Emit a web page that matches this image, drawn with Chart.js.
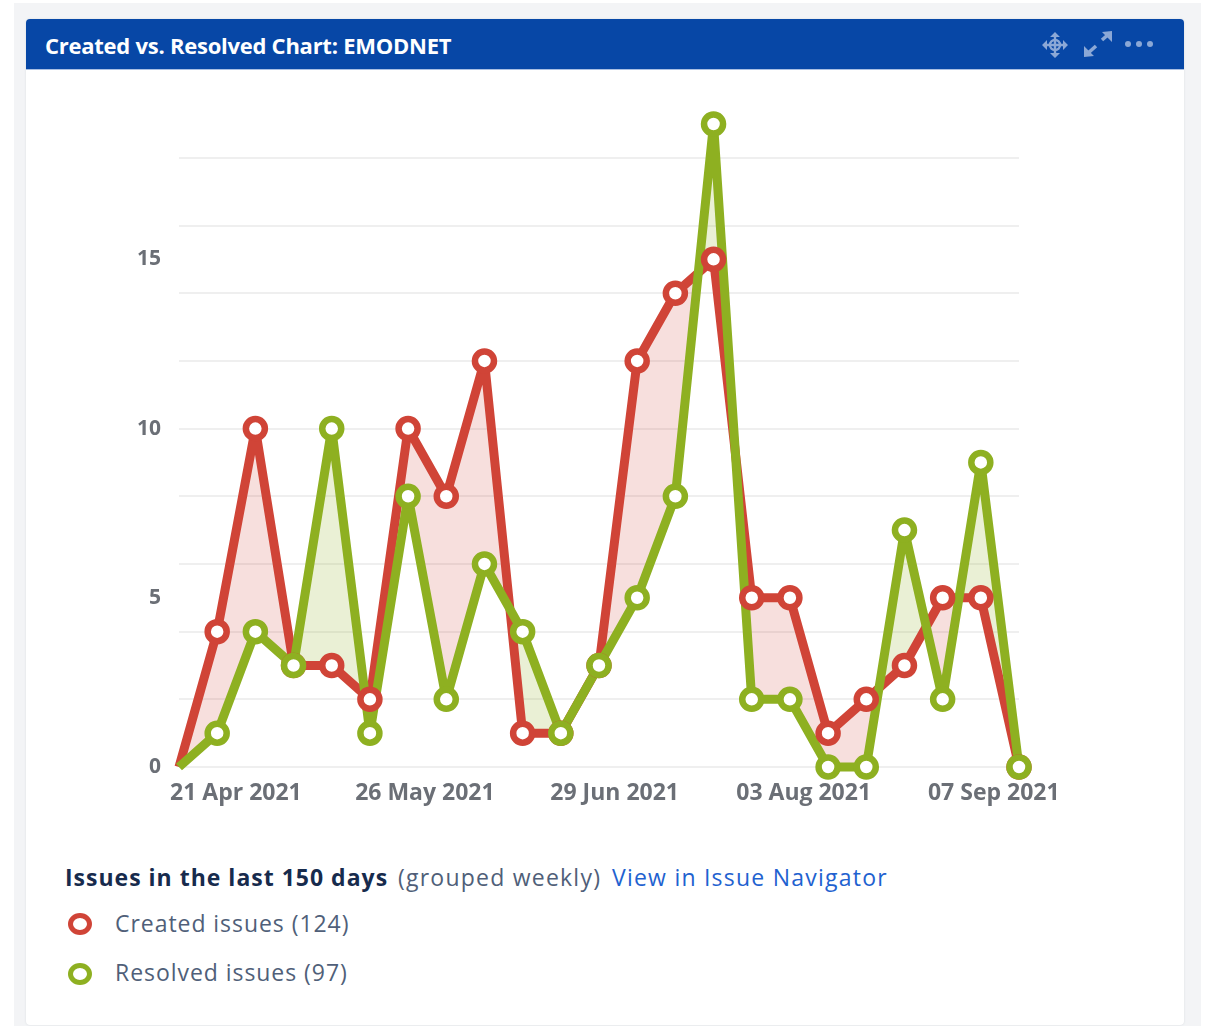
<!DOCTYPE html>
<html><head><meta charset="utf-8">
<script src="https://cdn.jsdelivr.net/npm/chart.js@4"></script>
<style>
html,body{margin:0;padding:0;background:#fff;width:1215px;height:1026px;overflow:hidden;font-family:"Open Sans",sans-serif}
#bg{position:absolute;left:14px;top:3px;width:1187px;height:1023px;background:#f3f4f6}
#card{position:absolute;left:26px;top:19px;width:1158px;height:1006px;background:#fff;border-radius:4px;box-shadow:0 0 2px #d5d8de}
#head{position:absolute;left:0;top:0;width:1158px;height:51px;background:#0747a6;border-radius:4px 4px 0 0;border-bottom:1px solid #a9bfe2;box-sizing:border-box}
#title{position:absolute;left:19px;top:12px;font-size:22px;line-height:28px;font-weight:700;color:#fff;letter-spacing:-.25px;white-space:nowrap}
svg.ic{position:absolute;left:1010px;top:8px}
canvas{position:absolute;left:100px;top:90px}
.t{position:absolute;white-space:nowrap;font-size:23px;line-height:30px;letter-spacing:.95px;color:#505f79}
.t b{color:#172b4d;font-weight:700}
.u{position:absolute;white-space:nowrap;font-size:23px;line-height:30px;letter-spacing:1.23px}
.m{position:absolute;box-sizing:border-box;width:24px;height:22px;border:5.5px solid;border-radius:50%;background:#fff}
</style></head><body>
<div id="bg"></div>
<div id="card"><div id="head"><div id="title">Created vs. Resolved Chart: EMODNET</div>
<svg class="ic" width="130" height="34" viewBox="0 0 130 34" fill="#8ba8d6" stroke="#8ba8d6">
<g stroke-width="2.4" fill="none"><path d="M19 7V29M8 18H30"/><circle cx="19" cy="18" r="5"/></g>
<g stroke="none"><path d="M19 5l5 5H14zM19 31l5-5H14zM6 18l5-5V23zM32 18l-5-5V23z"/></g>
<g stroke-width="3.6" fill="none"><path d="M51 27l9-8M66 13l8-7"/></g>
<g stroke="none"><path d="M48 30V19l10 10zM76 4v11L66 5z"/></g>
<g stroke="none"><circle cx="92" cy="17" r="3"/><circle cx="103" cy="17" r="3"/><circle cx="114" cy="17" r="3"/></g>
</svg></div></div>
<canvas id="c" width="1000" height="730"></canvas>
<div class="t" style="left:65px;top:862px;letter-spacing:1px"><b>Issues in the last 150 days</b></div>
<div class="u" style="left:398px;top:862px;color:#505f79">(grouped weekly)</div>
<div class="u" style="left:612px;top:862px;color:#1f62d0">View in Issue Navigator</div>
<div class="m" style="left:68px;top:913px;border-color:#d04437"></div>
<div class="t" style="left:115px;top:908px">Created issues (124)</div>
<div class="m" style="left:68px;top:963px;border-color:#8eb021"></div>
<div class="t" style="left:115px;top:957px">Resolved issues (97)</div>
<script>
const created=[0,4,10,3,3,2,10,8,12,1,1,3,12,14,15,5,5,1,2,3,5,5,0];
const resolved=[0,1,4,3,10,1,8,2,6,4,1,3,5,8,19,2,2,0,0,7,2,9,0];
const weeks=created.map((_,i)=>i);
const tickLabels=["21 Apr 2021","26 May 2021","29 Jun 2021","03 Aug 2021","07 Sep 2021"];
const tickWeeks=[1.49,6.44,11.41,16.36,21.34];
const yLabels=[0,5,10,15];
const RED="#d04437",GREEN="#8eb021";
const pts=a=>a.map((y,i)=>({x:weeks[i],y}));
const radius=ctx=>ctx.dataIndex===0?0:9.5;
const pointSet=(label,a,col)=>({label,data:pts(a),showLine:false,borderColor:col,backgroundColor:"#fff",pointBorderColor:col,pointBackgroundColor:"#fff",pointBorderWidth:6.5,pointRadius:radius,clip:false});
const lineSet=(label,a,col,fill)=>({label,data:pts(a),borderColor:col,borderWidth:9,tension:0,pointRadius:0,borderJoinStyle:"round",fill,clip:false});
new Chart(document.getElementById("c"),{type:"line",data:{datasets:[
 pointSet("Resolved points",resolved,GREEN),
 pointSet("Created points",created,RED),
 lineSet("Resolved issues",resolved,GREEN,false),
 lineSet("Created issues",created,RED,{target:2,above:"rgba(208,68,55,.17)",below:"rgba(142,176,33,.19)"})
]},options:{responsive:false,animation:false,events:[],
 layout:{padding:{left:0,right:81,top:34,bottom:0}},
 plugins:{legend:{display:false},tooltip:{enabled:false}},
 scales:{
  x:{type:"linear",min:0,max:22,grid:{display:false},border:{display:false},
   afterBuildTicks:s=>{s.ticks=tickWeeks.map(value=>({value}))},
   afterFit:s=>{s.height=53},
   ticks:{autoSkip:false,maxRotation:0,padding:5,color:"#6b6f76",font:{family:"Open Sans",size:23,weight:"700"},callback:(v,i)=>tickLabels[i]}},
  y:{min:0,max:19,border:{display:false},
   afterBuildTicks:s=>{s.ticks=weeks.slice(0,20).map(value=>({value}))},
   afterFit:s=>{s.width=79},
   grid:{drawTicks:false,lineWidth:2,color:c=>(c.tick&&c.tick.value%2===0)?"#efefef":"rgba(0,0,0,0)"},
   ticks:{autoSkip:false,padding:18,color:"#6b6f76",font:{family:"Open Sans",size:21,weight:"700"},callback:v=>yLabels.includes(v)?String(v):""}}
 }}});
</script>
</body></html>
